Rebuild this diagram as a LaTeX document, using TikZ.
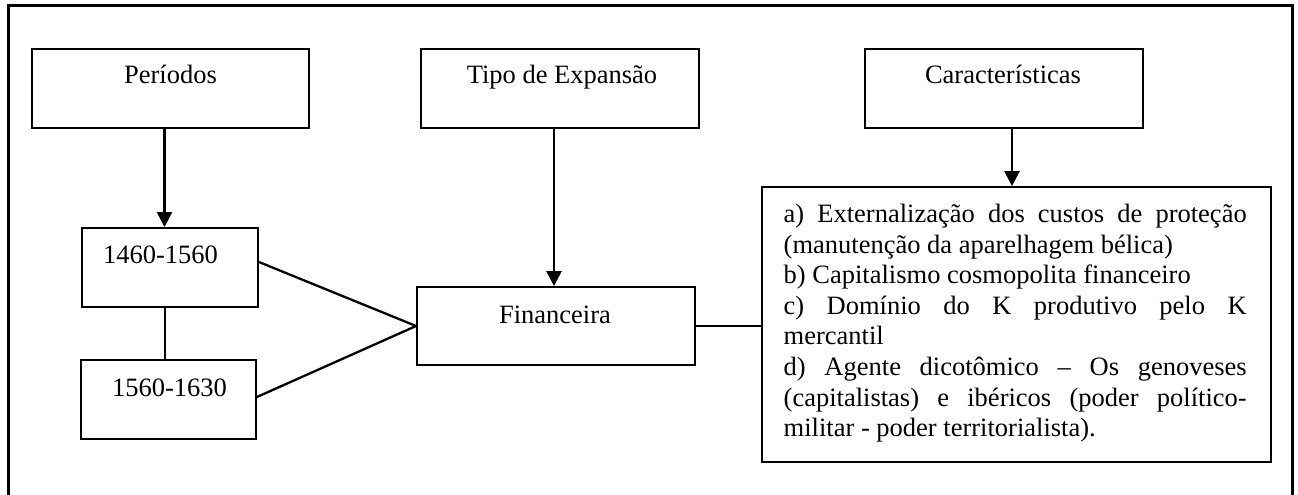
\documentclass[tikz,border=0pt]{standalone}
\usepackage{fontspec}
\setmainfont{Liberation Serif}
\usetikzlibrary{arrows.meta}
\tikzset{
  x=1pt, y=-1pt,
  boxnode/.style={draw=black, line width=1.9pt, inner sep=0pt, fill=white},
  lbl/.style={inner sep=0pt, anchor=base, font=\fontsize{26.5}{30.5}\selectfont},
  conn/.style={draw=black, line width=2.3pt},
  arr/.style={draw=black, line width=2.6pt, -{Triangle[width=15pt,length=15pt]}},
  frameline/.style={draw=black, line width=3pt}
}
\begin{document}
\begin{tikzpicture}
\useasboundingbox (0,0) rectangle (1298,495);
% outer frame (open at the bottom)
\draw[frameline] (8,496) -- (8,6) -- (1292,6) -- (1292,496);

% boxes
\node[boxnode, minimum width=277pt, minimum height=79pt] (per)  at (170.5,88.5) {};
\node[boxnode, minimum width=278pt, minimum height=79pt] (tipo) at (560,88.5) {};
\node[boxnode, minimum width=278pt, minimum height=79pt] (car)  at (1004,88.5) {};
\node[boxnode, minimum width=176pt, minimum height=79pt] (p1)   at (170,267.5) {};
\node[boxnode, minimum width=175pt, minimum height=79pt] (p2)   at (168.5,399.5) {};
\node[boxnode, minimum width=278pt, minimum height=78pt] (fin)  at (556,326) {};
\node[boxnode, minimum width=509pt, minimum height=275pt] (txt) at (1016.5,324.5) {};

% labels
\node[lbl] (lper)  at (170.5,84) {Períodos};
\node[lbl] (ltipo) at (562,84) {Tipo de Expansão};
\node[lbl] (lcar)  at (1003,83) {Características};
\node[lbl] (lp1)   at (160.5,263) {1460-1560};
\node[lbl] (lp2)   at (169.5,396) {1560-1630};
\node[lbl] (lfin)  at (555,323) {Financeira};

\node[inner sep=0pt, anchor=base west] (ltxt) at (783.5,222.5) {\vtop{\hsize=463pt\parindent=0pt
\fontsize{26.5}{30.6}\selectfont
\makebox[\hsize][s]{a) Externalização dos custos de proteção}\par
(manutenção da aparelhagem bélica)\par
b) Capitalismo cosmopolita financeiro\par
\makebox[\hsize][s]{c) Domínio do K produtivo pelo K}\par
mercantil\par
\makebox[\hsize][s]{d) Agente dicotômico – Os genoveses}\par
\makebox[\hsize][s]{(capitalistas) e ibéricos (poder político-}\par
militar - poder territorialista).}};

% connectors
\draw[arr] ([xshift=-6pt]per.south) -- ([xshift=-6pt]per.south |- p1.north);
\draw[conn] ([xshift=-5pt]p1.south) -- ([xshift=-5pt]p1.south |- p2.north);
\draw[conn] ([yshift=5.5pt]p1.east) -- (fin.west);
\draw[conn] ([yshift=2.5pt]p2.east) -- (fin.west);
\draw[arr] ([xshift=-6pt]tipo.south) -- ([xshift=-6pt]tipo.south |- fin.north);
\draw[arr] ([xshift=8pt]car.south) -- ([xshift=8pt]car.south |- txt.north);
\draw[conn] (fin.east) -- (fin.east -| txt.west);
\end{tikzpicture}
\end{document}
